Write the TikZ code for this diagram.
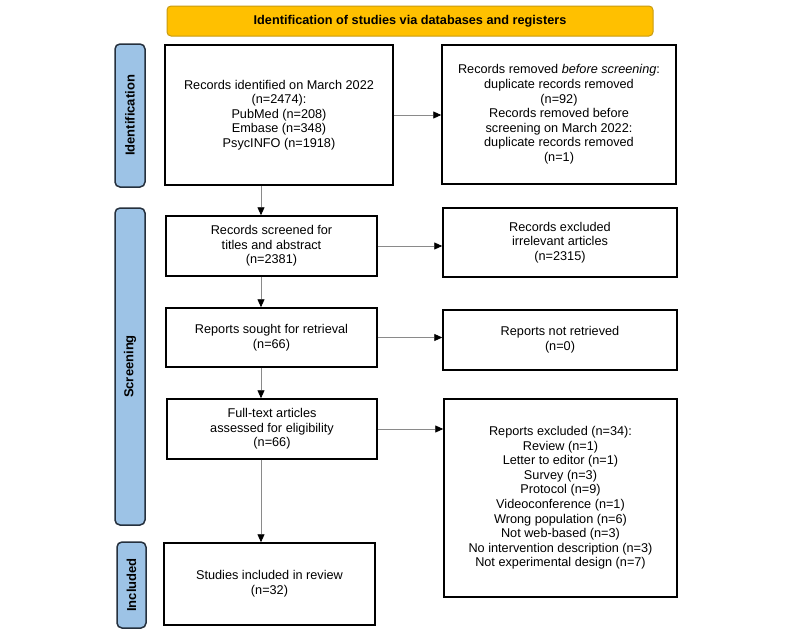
\documentclass[tikz,border=0pt]{standalone}
\usepackage{fontspec}
\setmainfont{Liberation Sans}
\usetikzlibrary{arrows.meta}
\definecolor{bannerfill}{HTML}{FFC000}
\definecolor{bannerdraw}{HTML}{C89B10}
\definecolor{barfill}{HTML}{9DC3E6}
\definecolor{bardraw}{HTML}{25303D}
\definecolor{linegray}{HTML}{8A8A8A}
\tikzset{
  box/.style={draw=black, line width=1.5pt, align=center, inner sep=0pt,
    font=\fontsize{12.7pt}{14.6pt}\selectfont},
  banner/.style={draw=bannerdraw, fill=bannerfill, line width=1pt, rounded corners=4pt,
    font=\fontsize{12.7pt}{14.6pt}\selectfont\bfseries, inner sep=0pt},
  sidebar/.style={draw=bardraw, fill=barfill, line width=1.5pt, rounded corners=5pt,
    rotate=90, inner sep=0pt, font=\fontsize{13pt}{15pt}\selectfont\bfseries},
  conn/.style={draw=linegray, line width=0.9pt, -{Triangle[length=8pt,width=7pt,color=black]}}
}
\begin{document}
\begin{tikzpicture}[x=1pt,y=-1pt]
\useasboundingbox (0,0) rectangle (800,635);
\fill[white] (0,0) rectangle (800,635);

\node[banner, minimum width=486pt, minimum height=30pt] (ban) at (410,21) {Identification of studies via databases and registers};

\node[sidebar, minimum width=143pt, minimum height=30pt] (sid) at (130,115.5) {Identification};
\node[sidebar, minimum width=317pt, minimum height=30pt] (scr) at (130,366.5) {Screening};
\node[sidebar, minimum width=86pt, minimum height=29pt] (inc) at (131.5,585) {Included};

\node[box, minimum width=228pt, minimum height=140pt] (b1) at (279,115)
  {Records identified on March 2022\\(n=2474):\\PubMed (n=208)\\Embase (n=348)\\PsycINFO (n=1918)};
\node[box, minimum width=234pt, minimum height=139pt] (b2) at (559,114.5)
  {Records removed \textit{before screening}:\\duplicate records removed\\(n=92)\\Records removed before\\screening on March 2022:\\duplicate records removed\\(n=1)};
\node[box, minimum width=211pt, minimum height=60pt] (b3) at (271.5,246)
  {Records screened for\\titles and abstract\\(n=2381)};
\node[box, minimum width=234pt, minimum height=69pt] (b4) at (560,242.5)
  {Records excluded\\irrelevant articles\\(n=2315)};
\node[box, minimum width=211pt, minimum height=59pt] (b5) at (271.5,337.5)
  {Reports sought for retrieval\\(n=66)};
\node[box, minimum width=234pt, minimum height=60pt] (b6) at (560,340)
  {Reports not retrieved\\(n=0)};
\node[box, minimum width=210pt, minimum height=60pt] (b7) at (272,429)
  {Full-text articles\\assessed for eligibility\\(n=66)};
\node[box, minimum width=233pt, minimum height=198pt] (b8) at (560.5,498)
  {Reports excluded (n=34):\\Review (n=1)\\Letter to editor (n=1)\\Survey (n=3)\\Protocol (n=9)\\Videoconference (n=1)\\Wrong population (n=6)\\Not web-based (n=3)\\No intervention description (n=3)\\Not experimental design (n=7)};
\node[box, minimum width=211pt, minimum height=82pt] (b9) at (269.5,584)
  {Studies included in review\\(n=32)};

\coordinate (ax) at (261,0);
\draw[conn] (b1.south -| ax) -- (b3.north -| ax);
\draw[conn] (b3.south -| ax) -- (b5.north -| ax);
\draw[conn] (b5.south -| ax) -- (b7.north -| ax);
\draw[conn] (b7.south -| ax) -- (b9.north -| ax);

\draw[conn] (b1.east) -- (b1.east -| b2.west);
\draw[conn] (b3.east) -- (b3.east -| b4.west);
\draw[conn] (b5.east) -- (b5.east -| b6.west);
\draw[conn] (b7.east) -- (b7.east -| b8.west);
\end{tikzpicture}
\end{document}
